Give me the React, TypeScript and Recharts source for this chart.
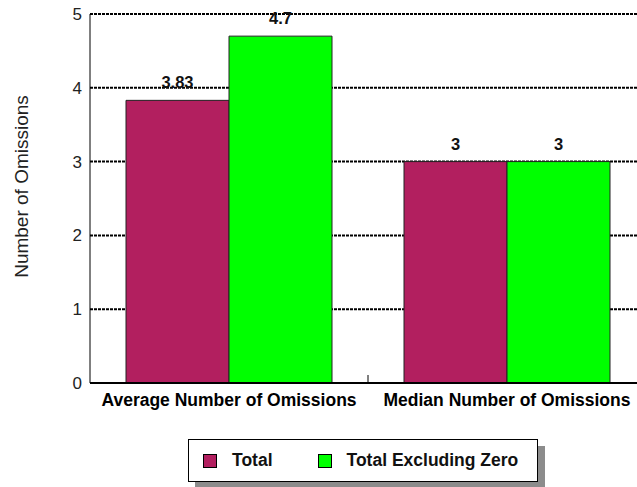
import React from "react";
import {
  BarChart,
  Bar,
  XAxis,
  YAxis,
  CartesianGrid,
  LabelList,
} from "recharts";

const categories = ["Average Number of Omissions", "Median Number of Omissions"];
const totalValues = [3.83, 3];
const excludingZeroValues = [4.7, 3];
const yTicks = [0, 1, 2, 3, 4, 5];

const series = [
  { key: "total", name: "Total", color: "#B21F5F", values: totalValues },
  { key: "excl", name: "Total Excluding Zero", color: "#00FF00", values: excludingZeroValues },
];

const data = categories.map((c, i) => ({
  category: c,
  total: totalValues[i],
  excl: excludingZeroValues[i],
}));

const FONT = "'Liberation Sans', Arial, sans-serif";

function CategoryTick(props: any) {
  const { x, y, payload, index } = props;
  const half = payload?.offset ?? 138;
  return (
    <g>
      {index > 0 && (
        <line x1={x - half} x2={x - half} y1={y - 8} y2={y} stroke="#000" strokeWidth={1} />
      )}
      <text
        x={x}
        y={y + 23}
        textAnchor="middle"
        fontFamily={FONT}
        fontWeight="bold"
        fontSize={17.5}
        fill="#000"
      >
        {payload.value}
      </text>
    </g>
  );
}

function YLabel(props: any) {
  const vb = props.viewBox || { x: 0, y: 14, height: 369 };
  const cx = 23;
  const cy = vb.y + vb.height / 2 - 12;
  return (
    <text
      x={cx}
      y={cy}
      transform={`rotate(-90 ${cx} ${cy})`}
      textAnchor="middle"
      dominantBaseline="middle"
      fontFamily={FONT}
      fontSize={19}
      fill="#222"
    >
      Number of Omissions
    </text>
  );
}

function Legend() {
  return (
    <div style={{ position: "absolute", left: 188, top: 439 }}>
      <div
        style={{
          position: "absolute",
          left: 7,
          top: 7,
          width: 350,
          height: 43,
          background: "#8c8c8c",
        }}
      />
      <div
        style={{
          position: "relative",
          width: 348,
          height: 41,
          border: "1px solid #000",
          background: "#fff",
          display: "flex",
          alignItems: "center",
          fontFamily: FONT,
          fontWeight: "bold",
          fontSize: 17.5,
          color: "#111",
        }}
      >
        {series.map((s, i) => (
          <div
            key={s.key}
            style={{
              display: "flex",
              alignItems: "center",
              marginLeft: i === 0 ? 14 : 45,
            }}
          >
            <span
              style={{
                display: "inline-block",
                width: 12,
                height: 12,
                background: s.color,
                border: "1px solid #000",
                marginRight: 15,
              }}
            />
            <span>{s.name}</span>
          </div>
        ))}
      </div>
    </div>
  );
}

export default function App() {
  return (
    <div style={{ position: "absolute", left: 0, top: 0, width: 637, height: 487, overflow: "hidden", background: "#fff" }}>
      <BarChart
        width={660}
        height={487}
        data={data}
        margin={{ top: 14, right: 14, bottom: 0, left: 0 }}
        barCategoryGap={36}
        barGap={0}
      >
        <CartesianGrid
          vertical={false}
          stroke="#000"
          strokeWidth={2}
          strokeDasharray="3 1"
        />
        <XAxis
          dataKey="category"
          height={104}
          tick={<CategoryTick />}
          tickLine={false}
          tickSize={0}
          tickMargin={0}
          axisLine={{ stroke: "#000", strokeWidth: 2 }}
          interval={0}
        />
        <YAxis
          width={90}
          domain={[0, 5]}
          ticks={yTicks}
          tickLine={false}
          tickSize={6}
          tickMargin={2}
          axisLine={{ stroke: "#000", strokeWidth: 1 }}
          tick={{ fill: "#222", fontSize: 17, fontFamily: FONT }}
          label={<YLabel />}
        />
        {series.map((s) => (
          <Bar
            key={s.key}
            dataKey={s.key}
            name={s.name}
            fill={s.color}
            stroke="#222"
            strokeWidth={1}
            isAnimationActive={false}
          >
            <LabelList
              dataKey={s.key}
              position="top"
              offset={12}
              fill="#111"
              fontFamily={FONT}
              fontWeight="bold"
              fontSize={16.5}
            />
          </Bar>
        ))}
      </BarChart>
      <Legend />
    </div>
  );
}
